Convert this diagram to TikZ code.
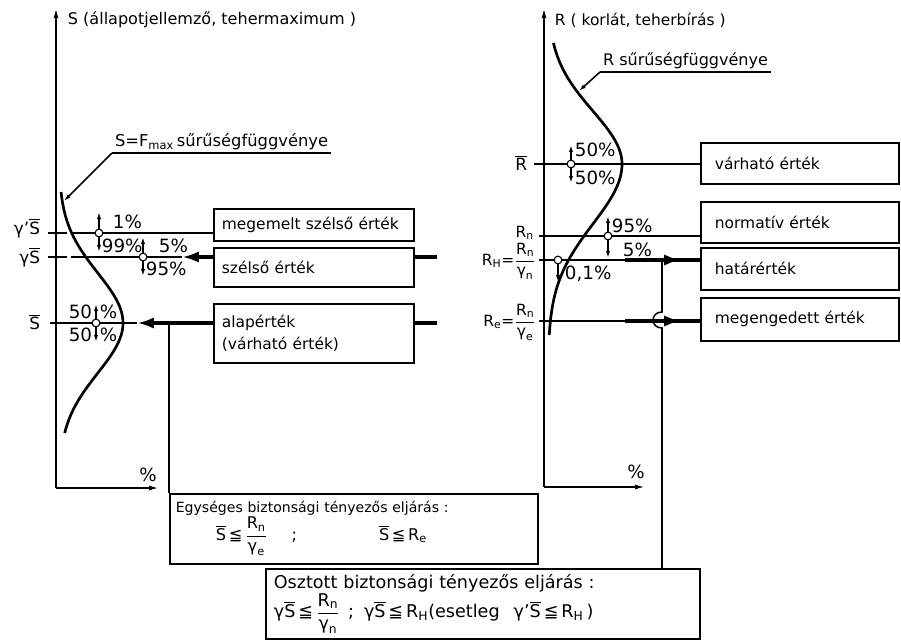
\documentclass[tikz,border=0pt]{standalone}
\usepackage{amsmath}
\usepackage{fontspec}
\setmainfont{DejaVu Sans}
\usetikzlibrary{arrows.meta}
\newcommand{\Sbar}{\overline{\text{S}}}
\newcommand{\gm}{\text{γ}}
\newcommand{\gmp}{\text{γ'}}
\newcommand{\lesym}{\text{\,≦\,}}

\begin{document}
\begin{tikzpicture}[x=0.025cm,y=-0.025cm,
        font=\fontsize{11}{13}\selectfont,
        rule/.style={line width=1.1pt},
        heavy/.style={line width=3pt},
        dens/.style={line width=1.9pt},
        axis/.style={line width=1.2pt,-{Latex[length=7pt,width=3.5pt]}},
        box/.style={draw,line width=1.2pt,anchor=north west,align=left,inner xsep=0.2cm,inner ysep=1pt},
        lbox/.style={box,text width=4.6cm},
        rbox/.style={box,inner xsep=0.35cm,text width=4.25cm},
        pct/.style={font=\fontsize{13}{15}\selectfont,inner sep=0.5pt},
        ring/.style={circle,draw,fill=white,line width=0.8pt,inner sep=0pt,minimum size=5.5pt},
        arr/.style={rule,-{Latex[length=5pt,width=3pt]}},
        push/.style={heavy,-{Latex[length=12pt,width=8pt]}}
      ]
        \useasboundingbox (0,0) rectangle (901,639);

        \coordinate (So) at (56,488);
        \coordinate (Ro) at (544,487);
        \draw[axis] (So) -- ++(0,-480);
        \draw[axis] (So) -- ++(103,0);
        \draw[axis] (Ro) -- ++(0,-479);
        \draw[axis] (Ro) -- ++(101,0);
        \node[anchor=west,font=\fontsize{11.4}{13}\selectfont] (Sname) at (63,20) {S (állapotjellemző, tehermaximum )};
        \node[anchor=west] (Rname) at (550,20) {R ( korlát, teherbírás )};
        \node[pct] (Sp) at (148,475) {\%};
        \node[pct] (Rp) at (636,472) {\%};

        \draw[dens] plot[domain=192:433,samples=60] ({59+64*exp(-0.5*((\x-323)/50)^2)},\x);
        \draw[dens] plot[domain=43:164,samples=40] ({548+74*exp(-0.5*((\x-164)/53)^2)},\x)
          -- plot[domain=164:335,samples=50] ({548+74*exp(-0.5*((\x-164)/60)^2)},\x);

        \coordinate (Spt) at (64,201);
        \node[anchor=south west,inner sep=2pt,font=\fontsize{11.6}{13}\selectfont] (Sdens) at (112,153) {S=F\textsubscript{max}\,sűrűségfüggvénye};
        \draw[rule] (Sdens.south east) -- (Sdens.south west);
        \draw[arr] (Sdens.south west) -- (Spt);
        \coordinate (Rpt) at (579,91);
        \node[anchor=south west,inner sep=2pt,font=\fontsize{11.4}{13}\selectfont] (Rdens) at (600,72) {R sűrűségfüggvénye};
        \draw[rule] (Rdens.south east) -- (Rdens.south west);
        \draw[arr] (Rdens.south west) -- (Rpt);

        \node[lbox,minimum height=0.8cm] (megemelt) at (213,208) {megemelt szélső érték};
        \node[lbox,minimum height=0.975cm] (szelso) at (213,247) {szélső érték};
        \node[lbox,minimum height=1.475cm] (alap) at (213,303) {alapérték\\[3pt](várható érték)};
        \node[rbox,minimum height=1.025cm] (varhato) at (700,142) {várható érték};
        \node[rbox,minimum height=1.025cm] (normativ) at (700,201) {normatív érték};
        \node[rbox,minimum height=1.05cm] (hatar) at (700,247) {határérték};
        \node[rbox,minimum height=1.075cm] (megeng) at (700,297) {megengedett érték};

        \node[box,text width=8.9cm,minimum height=1.75cm,inner xsep=0.15cm,font=\fontsize{10}{12}\selectfont] (egyseg) at (169,493)
          {Egységes biztonsági tényezős eljárás :\\
           {\fontsize{11.5}{13}\selectfont\hspace*{1cm}$\Sbar\lesym\dfrac{\text{R}_{\text{n}}}{\gm_{\text{e}}}$\hspace{0.6cm};\hspace{2.05cm}$\Sbar\lesym\text{R}_{\text{e}}$}};
        \node[box,text width=10.45cm,minimum height=1.75cm,inner xsep=0.2cm,font=\fontsize{12.5}{14}\selectfont] (osztott) at (265,568)
          {Osztott biztonsági tényezős eljárás :\\
           $\gm\Sbar\lesym\dfrac{\text{R}_{\text{n}}}{\gm_{\text{n}}}$\hspace{0.2cm};\hspace{0.25cm}$\gm\Sbar\lesym\text{R}_{\text{H}}$(esetleg\hspace{0.35cm}$\gmp\Sbar\lesym\text{R}_{\text{H}}$\,)};

        \node[anchor=east,font=\fontsize{12}{14}\selectfont] (gpS) at (45,228) {$\gmp\Sbar$};
        \node[anchor=east,font=\fontsize{12}{14}\selectfont] (gS) at (45,257) {$\gm\Sbar$};
        \node[anchor=east,font=\fontsize{12}{14}\selectfont] (Sb) at (45,322) {$\Sbar$};

        \draw[rule] (48,233) -- (67,233);
        \coordinate (l1) at (71,233);
        \draw[rule] (l1) -- (l1 -| megemelt.west);
        \node[ring] (c1) at (99,233) {};
        \draw[arr] (c1) -- ++(0,-21);
        \draw[arr] (c1) -- ++(0,19);
        \node[pct,anchor=west] (p1) at (112,222) {1\%};
        \node[pct,anchor=west] (p99) at (101,246) {99\%};

        \draw[rule] (48,257) -- (67,257);
        \coordinate (l2) at (71,257);
        \coordinate (t2) at (182,257);
        \draw[rule] (l2) -- (t2);
        \draw[push] (t2 -| szelso.west) -- (t2);
        \draw[heavy] (t2 -| szelso.east) -- ++(22,0);
        \node[ring] (c2) at (143,257) {};
        \draw[arr] (c2) -- ++(0,-20);
        \draw[arr] (c2) -- ++(0,19);
        \node[pct,anchor=west] (p5) at (158,246) {5\%};
        \node[pct,anchor=west] (p95) at (145,269) {95\%};

        \coordinate (l3) at (50,323);
        \coordinate (t3) at (137,323);
        \draw[rule] (l3) -- (t3);
        \draw[push] (t3 -| alap.west) -- (t3);
        \draw[heavy] (t3 -| alap.east) -- ++(22,0);
        \draw[rule] (t3 -| egyseg.north west) -- (egyseg.north west);
        \node[ring] (c3) at (96,323) {};
        \draw[arr] (c3) -- ++(0,-19);
        \draw[arr] (c3) -- ++(0,19);
        \node[pct,anchor=east] (p50a) at (93,312) {50};
        \node[pct,anchor=west] (q50a) at (99,312) {\%};
        \node[pct,anchor=east] (p50b) at (93,335) {50};
        \node[pct,anchor=west] (q50b) at (99,335) {\%};

        \node[anchor=east,font=\fontsize{12}{14}\selectfont] (Rb) at (532,163) {$\overline{\text{R}}$};
        \coordinate (r1) at (534,164);
        \draw[rule] (r1) -- (r1 -| varhato.west);
        \node[ring] (c4) at (571,164) {};
        \draw[arr] (c4) -- ++(0,-19);
        \draw[arr] (c4) -- ++(0,19);
        \node[pct,anchor=west] (p50c) at (574,150) {50\%};
        \node[pct,anchor=west] (p50d) at (574,178) {50\%};

        \node[anchor=base east] (Rn) at (539,237) {$\text{R}_{\text{n}}$};
        \coordinate (r2) at (539,236);
        \draw[rule] (r2) -- (r2 -| normativ.west);
        \node[ring] (c5) at (608,236) {};
        \draw[arr] (c5) -- ++(0,-20);
        \draw[arr] (c5) -- ++(0,22);
        \node[pct,anchor=west] (p95r) at (611,226) {95\%};
        \node[pct,anchor=west] (p5r) at (622,250) {5\%};

        \node[anchor=base east] (RH) at (541,265) {$\text{R}_{\text{H}}\text{=}\dfrac{\text{R}_{\text{n}}}{\gm_{\text{n}}}$};
        \coordinate (r3) at (539,260);
        \coordinate (j3) at (625,260);
        \draw[rule] (r3) -- (j3);
        \draw[heavy] (j3) -- (j3 -| hatar.west);
        \draw[push] (j3) -- ++(56,0);
        \node[ring] (c6) at (558,260) {};
        \draw[arr] (c6) -- ++(0,22);
        \node[pct,anchor=west] (p01) at (564,274) {0,1\%};

        \node[anchor=base east] (Re) at (541,326) {$\text{R}_{\text{e}}\text{=}\dfrac{\text{R}_{\text{n}}}{\gm_{\text{e}}}$};
        \coordinate (r4) at (539,321);
        \coordinate (j4) at (625,321);
        \draw[rule] (r4) -- (j4);
        \draw[heavy] (j4) -- (j4 -| megeng.west);
        \draw[push] (j4) -- ++(56,0);

        \coordinate (v0) at (662,260);
        \draw[rule] (v0) -- ++(0,52) .. controls +(-12,0) and +(-12,0) .. ++(0,16) -- (v0 |- osztott.north);
      \end{tikzpicture}
\end{document}
